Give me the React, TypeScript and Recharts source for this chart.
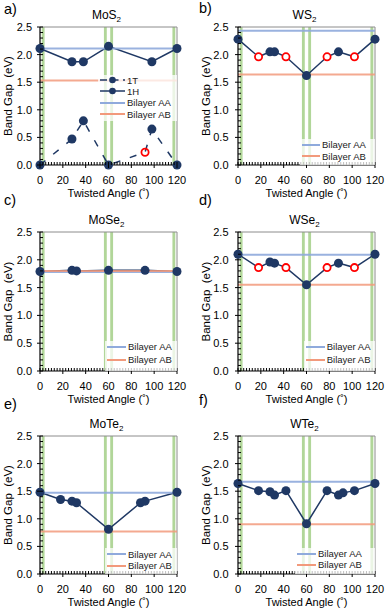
import { LineChart, Line, XAxis, YAxis, ReferenceArea, ReferenceLine, Legend } from "recharts";

const NAVY = "#1F3864";
const AA_COLOR = "#8FAADC";
const AB_COLOR = "#F29A7C";
const BAND_COLOR = "#A9D18E";
const RING_COLOR = "#FF0000";
const FRAME_COLOR = "#8C8C8C";
const FONT = '"Liberation Sans", Arial, sans-serif';

const CHART_W = 193;
const CHART_H = 200;
const Y_AXIS_W = 32;
const X_AXIS_H = 35;

const X_TICKS = [0, 20, 40, 60, 80, 100, 120];
const Y_TICKS = [0, 0.5, 1, 1.5, 2, 2.5];
const X_MINOR = Array.from({ length: 49 }, (_, i) => i * 2.5);
const Y_MINOR = Array.from({ length: 26 }, (_, i) => i / 10);
// green marker bands (degrees)
const BANDS = [[1.5, 4], [56, 58.5], [61.5, 64], [116, 118.5]];

// a) MoS2
const MOS2_1H_ANGLES = [0, 28, 38, 60, 98, 120];
const MOS2_1H_GAPS = [2.11, 1.87, 1.87, 2.15, 1.87, 2.11];
const MOS2_1T_ANGLES = [0, 28, 38, 60, 92, 98, 120];
const MOS2_1T_GAPS = [0, 0.47, 0.8, 0, 0.23, 0.65, 0];
const MOS2_1T_OPEN = [92];
const MOS2_AA = 2.11;
const MOS2_AB = 1.53;

// b) WS2
const WS2_ANGLES = [0, 18, 28, 32, 42, 60, 78, 88, 102, 120];
const WS2_GAPS = [2.28, 1.96, 2.05, 2.05, 1.96, 1.62, 1.96, 2.05, 1.96, 2.28];
const WS2_OPEN = [18, 42, 78, 102];
const WS2_AA = 2.43;
const WS2_AB = 1.64;

// c) MoSe2
const MOSE2_ANGLES = [0, 28, 32, 60, 92, 120];
const MOSE2_GAPS = [1.79, 1.81, 1.8, 1.81, 1.81, 1.79];
const MOSE2_AA = 1.78;
const MOSE2_AB = 1.8;

// d) WSe2
const WSE2_ANGLES = [0, 18, 28, 32, 42, 60, 78, 88, 102, 120];
const WSE2_GAPS = [2.1, 1.86, 1.96, 1.94, 1.86, 1.55, 1.86, 1.94, 1.86, 2.1];
const WSE2_OPEN = [18, 42, 78, 102];
const WSE2_AA = 2.09;
const WSE2_AB = 1.55;

// e) MoTe2
const MOTE2_ANGLES = [0, 18, 28, 32, 60, 88, 92, 120];
const MOTE2_GAPS = [1.48, 1.35, 1.32, 1.29, 0.81, 1.29, 1.32, 1.48];
const MOTE2_AA = 1.47;
const MOTE2_AB = 0.77;

// f) WTe2
const WTE2_ANGLES = [0, 18, 28, 32, 42, 60, 78, 88, 92, 102, 120];
const WTE2_GAPS = [1.64, 1.51, 1.49, 1.43, 1.51, 0.91, 1.51, 1.43, 1.47, 1.51, 1.64];
const WTE2_AA = 1.67;
const WTE2_AB = 0.9;

type Series = { angles: number[]; gaps: number[]; open?: number[]; dashed?: boolean; ringFill?: string };
type LegendItem = { label: string; color: string; marker?: boolean; dashed?: boolean };
type Panel = {
  key: string;
  letter: string;
  letterY: number;
  formula: string;
  col: number;
  row: number;
  aa: number;
  ab: number;
  series: Series[];
  legend: { left: number; top: number; width: number; height: number; rowH: number; sample: number; items: LegendItem[] };
};

const COLS = [
  { left: 0, mLeft: 8, mRight: 16, tickGap: 8, letterX: 4 },
  { left: 193, mLeft: 13, mRight: 11, tickGap: 9.5, letterX: 199 },
];
const ROWS = [
  { top: 0, mTop: 27 },
  { top: 206, mTop: 26 },
  { top: 409, mTop: 27 },
];

const BILAYER_ITEMS: LegendItem[] = [
  { label: "Bilayer AA", color: AA_COLOR },
  { label: "Bilayer AB", color: AB_COLOR },
];

const PANELS: Panel[] = [
  {
    key: "a", letter: "a)", letterY: 14, formula: "MoS", col: 0, row: 0, aa: MOS2_AA, ab: MOS2_AB,
    series: [
      { angles: MOS2_1T_ANGLES, gaps: MOS2_1T_GAPS, open: MOS2_1T_OPEN, dashed: true, ringFill: "none" },
      { angles: MOS2_1H_ANGLES, gaps: MOS2_1H_GAPS },
    ],
    legend: {
      left: 98, top: 74.5, width: 79, height: 46, rowH: 11.3, sample: 25,
      items: [
        { label: "1T", color: NAVY, marker: true, dashed: true },
        { label: "1H", color: NAVY, marker: true },
        ...BILAYER_ITEMS,
      ],
    },
  },
  {
    key: "b", letter: "b)", letterY: 12.5, formula: "WS", col: 1, row: 0, aa: WS2_AA, ab: WS2_AB,
    series: [{ angles: WS2_ANGLES, gaps: WS2_GAPS, open: WS2_OPEN }],
    legend: { left: 106.5, top: 139, width: 75.5, height: 26, rowH: 11.5, sample: 18.5, items: BILAYER_ITEMS },
  },
  {
    key: "c", letter: "c)", letterY: 205, formula: "MoSe", col: 0, row: 1, aa: MOSE2_AA, ab: MOSE2_AB,
    series: [{ angles: MOSE2_ANGLES, gaps: MOSE2_GAPS }],
    legend: { left: 105, top: 134.7, width: 72, height: 30.3, rowH: 12.6, sample: 19, items: BILAYER_ITEMS },
  },
  {
    key: "d", letter: "d)", letterY: 205, formula: "WSe", col: 1, row: 1, aa: WSE2_AA, ab: WSE2_AB,
    series: [{ angles: WSE2_ANGLES, gaps: WSE2_GAPS, open: WSE2_OPEN }],
    legend: { left: 110.7, top: 134.7, width: 71.3, height: 30.3, rowH: 12.6, sample: 19, items: BILAYER_ITEMS },
  },
  {
    key: "e", letter: "e)", letterY: 409, formula: "MoTe", col: 0, row: 2, aa: MOTE2_AA, ab: MOTE2_AB,
    series: [{ angles: MOTE2_ANGLES, gaps: MOTE2_GAPS }],
    legend: { left: 105, top: 139.3, width: 72, height: 25.7, rowH: 11.7, sample: 19, items: BILAYER_ITEMS },
  },
  {
    key: "f", letter: "f)", letterY: 405, formula: "WTe", col: 1, row: 2, aa: WTE2_AA, ab: WTE2_AB,
    series: [{ angles: WTE2_ANGLES, gaps: WTE2_GAPS }],
    legend: { left: 102, top: 139.3, width: 80, height: 25.7, rowH: 11, sample: 19, items: BILAYER_ITEMS },
  },
];

function geom(p: Panel) {
  const c = COLS[p.col];
  const r = ROWS[p.row];
  return {
    left: c.left,
    top: r.top,
    margin: { top: r.mTop, right: c.mRight, bottom: 0, left: c.mLeft },
    plotLeft: c.left + c.mLeft + Y_AXIS_W,
    plotRight: c.left + CHART_W - c.mRight,
    plotTop: r.top + r.mTop,
    plotBottom: r.top + CHART_H - X_AXIS_H,
    tickGap: c.tickGap,
    letterX: c.letterX,
  };
}

function toRows(s: Series) {
  return s.angles.map((x, i) => ({ x, y: s.gaps[i], open: (s.open || []).includes(x) }));
}

const isMajor = (list: number[], v: number) => list.some((t) => Math.abs(t - v) < 1e-6);

function XTick(props: any) {
  const { x, y, payload } = props;
  const major = isMajor(X_TICKS, payload.value);
  return (
    <g>
      <line x1={x} x2={x} y1={y - 3} y2={major ? y + 3 : y} stroke="#000" strokeWidth={1} />
      {major && (
        <text x={x} y={y + 19} textAnchor="middle" fontSize={11} fontFamily={FONT} fill="#000">
          {payload.value}
        </text>
      )}
    </g>
  );
}

function makeYTick(gap: number) {
  return (props: any) => {
    const { x, y, payload } = props;
    const major = isMajor(Y_TICKS, payload.value);
    return (
      <g>
        <line x1={major ? x - 3 : x} x2={x + 3} y1={y} y2={y} stroke="#000" strokeWidth={1} />
        {major && (
          <text x={x - gap} y={y + 4} textAnchor="end" fontSize={11} fontFamily={FONT} fill="#000">
            {payload.value.toFixed(1)}
          </text>
        )}
      </g>
    );
  };
}

function makeDot(ringFill: string) {
  return (props: any) => {
    const { cx, cy, payload, index } = props;
    if (cx == null || cy == null) return <g key={`d${index}`} />;
    if (payload.open) {
      return <circle key={`d${index}`} cx={cx} cy={cy} r={3.6} fill={ringFill} stroke={RING_COLOR} strokeWidth={1.8} />;
    }
    return <circle key={`d${index}`} cx={cx} cy={cy} r={4.5} fill={NAVY} stroke="none" />;
  };
}

function LegendBox({ legend }: { legend: Panel["legend"] }) {
  return (
    <div style={{ fontFamily: FONT, fontSize: 9.5, color: "#222" }}>
      {legend.items.map((it) => (
        <div key={it.label} style={{ display: "flex", alignItems: "center", height: legend.rowH, paddingLeft: 2 }}>
          <svg width={legend.sample} height={10} style={{ display: "block" }}>
            <line
              x1={0}
              x2={legend.sample}
              y1={5}
              y2={5}
              stroke={it.color}
              strokeWidth={it.marker ? 1.5 : 2}
              strokeDasharray={it.dashed ? "7 4.5" : undefined}
            />
            {it.marker && <circle cx={legend.sample / 2} cy={5} r={3.3} fill={NAVY} />}
          </svg>
          <span style={{ marginLeft: 2, whiteSpace: "nowrap" }}>{it.label}</span>
        </div>
      ))}
    </div>
  );
}

function PanelChart({ panel }: { panel: Panel }) {
  const g = geom(panel);
  const lg = panel.legend;
  return (
    <div style={{ position: "absolute", left: g.left, top: g.top, width: CHART_W, height: CHART_H }}>
      <LineChart width={CHART_W} height={CHART_H} margin={g.margin}>
        <XAxis
          type="number"
          dataKey="x"
          domain={[0, 120]}
          ticks={X_MINOR}
          interval={0}
          height={X_AXIS_H}
          tickSize={0}
          tickMargin={0}
          tickLine={false}
          tick={XTick}
          axisLine={{ stroke: "#000", strokeWidth: 1.2 }}
        />
        <YAxis
          type="number"
          domain={[0, 2.5]}
          ticks={Y_MINOR}
          interval={0}
          width={Y_AXIS_W}
          tickSize={0}
          tickMargin={0}
          tickLine={false}
          tick={makeYTick(g.tickGap)}
          axisLine={{ stroke: "#000", strokeWidth: 1.2 }}
        />
        {BANDS.map(([x1, x2]) => (
          <ReferenceArea key={x1} x1={x1} x2={x2} y1={0} y2={2.5} fill={BAND_COLOR} fillOpacity={0.9} stroke="none" />
        ))}
        <ReferenceLine y={2.5} stroke={FRAME_COLOR} strokeWidth={1} />
        <ReferenceLine x={120} stroke={FRAME_COLOR} strokeWidth={1} />
        {panel.series.map((s, i) => (
          <Line
            key={`line${i}`}
            data={toRows(s)}
            dataKey="y"
            type="linear"
            stroke={NAVY}
            strokeWidth={1.5}
            strokeDasharray={s.dashed ? "7 10" : undefined}
            dot={false}
            activeDot={false}
            legendType="none"
            isAnimationActive={false}
          />
        ))}
        <Line
          data={[{ x: 0, y: panel.aa }, { x: 120, y: panel.aa }]}
          dataKey="y"
          stroke={AA_COLOR}
          strokeWidth={2}
          strokeOpacity={0.9}
          dot={false}
          activeDot={false}
          isAnimationActive={false}
        />
        <Line
          data={[{ x: 0, y: panel.ab }, { x: 120, y: panel.ab }]}
          dataKey="y"
          stroke={AB_COLOR}
          strokeWidth={2}
          strokeOpacity={0.85}
          dot={false}
          activeDot={false}
          isAnimationActive={false}
        />
        {panel.series.map((s, i) => (
          <Line
            key={`dots${i}`}
            data={toRows(s)}
            dataKey="y"
            stroke="none"
            strokeWidth={0}
            dot={makeDot(s.ringFill || "#fff")}
            activeDot={false}
            legendType="none"
            isAnimationActive={false}
          />
        ))}
        <Legend
          layout="vertical"
          align="center"
          verticalAlign="middle"
          content={() => <LegendBox legend={lg} />}
          wrapperStyle={{
            left: lg.left,
            top: lg.top,
            width: lg.width,
            height: lg.height,
            backgroundColor: "rgba(255,255,255,0.75)",
          }}
        />
      </LineChart>
    </div>
  );
}

function PanelText({ panel }: { panel: Panel }) {
  const g = geom(panel);
  const cx = (g.plotLeft + g.plotRight) / 2;
  const cy = (g.plotTop + g.plotBottom) / 2;
  return (
    <g fontFamily={FONT} fill="#000">
      <text x={g.letterX} y={panel.letterY} fontSize={14.5}>
        {panel.letter}
      </text>
      <text x={cx - 2} y={g.plotTop - 8} textAnchor="middle" fontSize={12}>
        {panel.formula}
        <tspan fontSize={8} dy={3}>
          2
        </tspan>
      </text>
      <text
        transform={`translate(${g.plotLeft - 28.3}, ${cy}) rotate(-90)`}
        textAnchor="middle"
        fontSize={11.5}
        style={{ whiteSpace: "pre" }}
      >
        {"Band Gap  (eV)"}
      </text>
      <text x={cx} y={g.plotBottom + 31.5} textAnchor="middle" fontSize={11}>
        {"Twisted Angle (˚)"}
      </text>
    </g>
  );
}

export default function App() {
  return (
    <div style={{ position: "absolute", left: 0, top: 0, width: 386, height: 611, background: "#fff", overflow: "hidden" }}>
      {PANELS.map((p) => (
        <PanelChart key={p.key} panel={p} />
      ))}
      <svg width={386} height={611} style={{ position: "absolute", left: 0, top: 0, pointerEvents: "none" }}>
        {PANELS.map((p) => (
          <PanelText key={p.key} panel={p} />
        ))}
      </svg>
    </div>
  );
}
